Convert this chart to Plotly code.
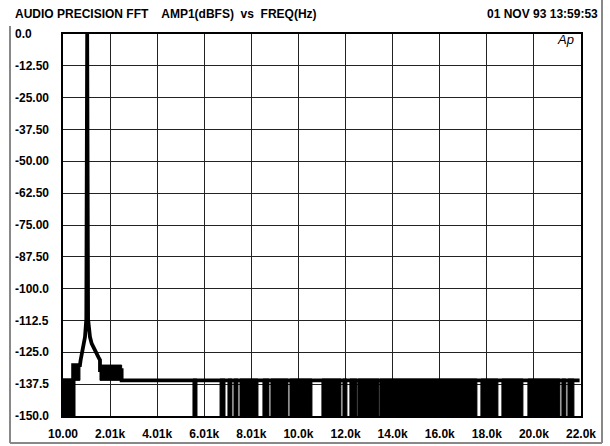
import plotly.graph_objects as go

# ---------------- data ----------------
x_tickvals = [10, 2010, 4010, 6010, 8010, 10010, 12010, 14010, 16010, 18010, 20010, 22010]
x_ticktext = ["10.00", "2.01k", "4.01k", "6.01k", "8.01k", "10.0k", "12.0k", "14.0k",
              "16.0k", "18.0k", "20.0k", "22.0k"]
y_tickvals = [0, -12.5, -25, -37.5, -50, -62.5, -75, -87.5, -100, -112.5, -125, -137.5, -150]
y_ticktext = ["0.0", "-12.50", "-25.00", "-37.50", "-50.00", "-62.50", "-75.00", "-87.50",
              "-100.0", "-112.5", "-125.0", "-137.5", "-150.0"]

# main FFT trace (Hz, dBFS)
main_freq = [10, 440, 440, 730, 760, 804, 880, 944, 1000, 1037, 1075, 1156, 1229, 1340,
             1441, 1520, 1581, 1581, 2500, 2500, 21950]
main_db = [-136, -136, -130, -130, -128, -125.6, -122, -119, -112, 0, -112, -119, -121.6,
           -124, -126, -127, -128, -132, -132, -136, -136]

# densely oscillating regions of the trace (start Hz, end Hz, top dB, bottom dB)
dense_start = [10, 440, 1581, 5530, 6680, 7016, 7271, 7526, 8502, 8842, 9649, 11007,
               11899, 12196, 12536, 13470, 17759, 18651, 19755, 21199, 21454]
dense_end = [520, 730, 2500, 5700, 6890, 7186, 7441, 8290, 8757, 9564, 10583, 11814,
             12069, 12493, 13427, 17589, 18481, 19543, 21114, 21369, 21709]
dense_top = [-135.5, -130, -130] + [-135.5] * 18
dense_bottom = [-150, -136, -136] + [-150] * 18

title_left = "AUDIO PRECISION FFT    AMP1(dBFS)  vs  FREQ(Hz)"
title_right = "01 NOV 93 13:59:53"
logo_text = "Ap"

# ---------------- figure ----------------
W, H = 610, 446
ML, MR, MT, MB = 63, 29, 34, 30
PW, PH = W - ML - MR, H - MT - MB


def px(xp):
    return (xp - ML) / PW


def py(yp):
    return (H - MB - yp) / PH


FONT = "Liberation Sans, Arial, sans-serif"

fig = go.Figure()

fx, fy = [], []
for s, e, t, b in zip(dense_start, dense_end, dense_top, dense_bottom):
    fx += [s, e, e, s, s, None]
    fy += [b, b, t, t, b, None]
fig.add_trace(go.Scatter(x=fx, y=fy, mode="lines", fill="toself", fillcolor="black",
                         line=dict(color="black", width=1), hoverinfo="skip",
                         showlegend=False))

fig.add_trace(go.Scatter(x=main_freq, y=main_db, mode="lines",
                         line=dict(color="black", width=3.8), showlegend=False))

fig.update_xaxes(range=[10, 22010], tickvals=x_tickvals, ticktext=x_ticktext,
                 showgrid=True, gridcolor="#222", gridwidth=1, zeroline=False,
                 showline=True, linecolor="black", linewidth=1.5, mirror=True,
                 ticks="", tickfont=dict(family=FONT, size=12, color="black", weight="bold"),
                 ticklabelstandoff=6, automargin=False)
fig.update_yaxes(range=[-150, 0], tickvals=y_tickvals, showticklabels=False,
                 showgrid=True, gridcolor="#222", gridwidth=1, zeroline=False,
                 showline=True, linecolor="black", linewidth=1.5, mirror=True, ticks="",
                 automargin=False)

annotations = []
for v, t in zip(y_tickvals, y_ticktext):
    annotations.append(dict(x=px(13), y=v, xref="paper", yref="y", text=t,
                            showarrow=False, xanchor="left", yanchor="middle",
                            font=dict(family=FONT, size=12, color="black", weight="bold")))
annotations.append(dict(x=px(13), y=py(13.5), xref="paper", yref="paper", text=title_left,
                        showarrow=False, xanchor="left", yanchor="middle",
                        font=dict(family=FONT, size=12, color="black", weight="bold")))
annotations.append(dict(x=px(600), y=py(13.5), xref="paper", yref="paper", text=title_right,
                        showarrow=False, xanchor="right", yanchor="middle",
                        font=dict(family=FONT, size=12, color="black", weight="bold")))
annotations.append(dict(x=px(576), y=py(40), xref="paper", yref="paper", text=logo_text,
                        showarrow=False, xanchor="right", yanchor="middle",
                        font=dict(family=FONT, size=13, color="black", style="italic")))

shapes = [
    dict(type="line", xref="paper", yref="paper", x0=px(10), x1=px(10), y0=py(26), y1=py(443),
         line=dict(color="#888", width=2)),
    dict(type="line", xref="paper", yref="paper", x0=px(602), x1=px(602), y0=py(0), y1=py(443),
         line=dict(color="#888", width=2)),
    dict(type="line", xref="paper", yref="paper", x0=px(10), x1=px(602), y0=py(443), y1=py(443),
         line=dict(color="#888", width=2)),
]

fig.update_layout(width=W, height=H, margin=dict(l=ML, r=MR, t=MT, b=MB),
                  paper_bgcolor="white", plot_bgcolor="white",
                  annotations=annotations, shapes=shapes, showlegend=False)

fig.write_html("out.html", config={"displayModeBar": False},
               post_script="document.body.style.margin='0';document.body.style.overflow='hidden';")
